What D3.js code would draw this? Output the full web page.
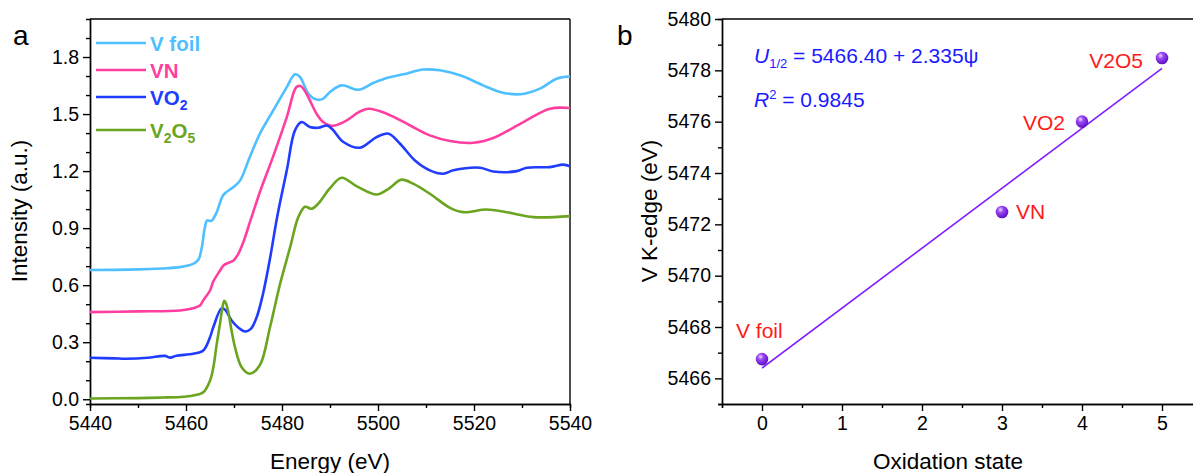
<!DOCTYPE html>
<html>
<head>
<meta charset="utf-8">
<script src="https://cdn.jsdelivr.net/npm/d3@7"></script>
<style>
  html, body { margin: 0; padding: 0; background: #fff; }
  svg { display: block; font-family: "Liberation Sans", Arial, sans-serif; }
</style>
</head>
<body>
<svg id="fig" width="1193" height="473"></svg>
<script>
// ---- Panel a: V K-edge XANES spectra, [energy (eV), normalised intensity] ----
const vFoil = [
  [5440, 0.680], [5450, 0.683], [5455, 0.688], [5458.75, 0.695], [5461.5, 0.712],
  [5462.6, 0.735], [5463.3, 0.80], [5463.9, 0.90], [5464.4, 0.94], [5465.3, 0.938],
  [5466.4, 0.984], [5467.8, 1.075], [5469.9, 1.116], [5471.25, 1.15], [5473.3, 1.274],
  [5475.4, 1.397], [5478.2, 1.52], [5481, 1.642], [5482.7, 1.709], [5483.75, 1.695],
  [5485.5, 1.607], [5487.2, 1.576], [5488.5, 1.580], [5490, 1.616], [5492.4, 1.651],
  [5495.9, 1.628], [5499, 1.663], [5501.8, 1.69], [5505.3, 1.709], [5509.4, 1.734],
  [5512.9, 1.73], [5517.1, 1.704], [5521.9, 1.651], [5525.4, 1.616], [5529.6, 1.604],
  [5533.75, 1.634], [5537.2, 1.686], [5540, 1.698]
];
const vN = [
  [5440, 0.458], [5450, 0.462], [5458.75, 0.467], [5461.5, 0.479], [5462.9, 0.493],
  [5463.6, 0.52], [5465, 0.572], [5465.7, 0.62], [5467.1, 0.677], [5467.8, 0.704],
  [5469.2, 0.721], [5469.9, 0.73], [5470.9, 0.765], [5472.0, 0.83], [5473.3, 0.93],
  [5475.4, 1.09], [5478.2, 1.28], [5481, 1.484], [5483, 1.642], [5483.9, 1.647],
  [5485.1, 1.607], [5487.2, 1.502], [5488.5, 1.46], [5490, 1.44], [5491, 1.44],
  [5493.5, 1.467], [5496, 1.51], [5498, 1.528], [5501.8, 1.502], [5506.7, 1.44],
  [5510.8, 1.388], [5515, 1.358], [5519.9, 1.349], [5524, 1.374], [5530.3, 1.458],
  [5535.8, 1.528], [5540, 1.532]
];
const vO2 = [
  [5440, 0.218], [5445, 0.215], [5447.6, 0.213], [5452, 0.218], [5455.6, 0.228],
  [5456.7, 0.219], [5458, 0.229], [5461.5, 0.239], [5463.6, 0.256], [5465, 0.326],
  [5465.7, 0.38], [5467.4, 0.478], [5468.2, 0.47], [5469.5, 0.414], [5471, 0.375],
  [5472.3, 0.356], [5473.5, 0.37], [5474.7, 0.43], [5476, 0.55], [5477.5, 0.74],
  [5479, 0.96], [5481, 1.204], [5482.7, 1.414], [5484.1, 1.458], [5485.8, 1.432],
  [5487.6, 1.428], [5489.4, 1.44], [5490.5, 1.42], [5492.8, 1.353], [5496.25, 1.323],
  [5499.7, 1.379], [5502.2, 1.397], [5504.6, 1.344], [5507.7, 1.256], [5510.8, 1.204],
  [5513.6, 1.186], [5515.7, 1.204], [5521.25, 1.218], [5524, 1.198], [5528.9, 1.2],
  [5531, 1.218], [5535.8, 1.221], [5538.6, 1.234], [5540, 1.226]
];
const v2O5 = [
  [5440, 0.004], [5450, 0.006], [5455, 0.009], [5458.75, 0.012], [5461.5, 0.02],
  [5463.6, 0.037], [5465, 0.098], [5465.7, 0.168], [5466.4, 0.29], [5467.1, 0.40],
  [5467.5, 0.47], [5467.97, 0.518], [5468.4, 0.50], [5468.8, 0.46], [5469.5, 0.36],
  [5470.2, 0.274], [5471.6, 0.168], [5473.3, 0.134], [5475.4, 0.18], [5477.5, 0.379],
  [5479.6, 0.607], [5481.7, 0.80], [5483.4, 0.958], [5484.8, 1.012], [5486.2, 1.002],
  [5487.6, 1.03], [5490, 1.11], [5492.4, 1.165], [5495.6, 1.12], [5499.7, 1.077],
  [5502.2, 1.107], [5504.9, 1.155], [5507.3, 1.134], [5510.8, 1.081], [5515, 1.007],
  [5517.8, 0.984], [5522.6, 0.998], [5526.8, 0.984], [5532.4, 0.958], [5540, 0.963]
];
const spectraNames = ["V foil", "VN", "VO2", "V2O5"];
const spectraColors = ["#4fc0ff", "#ff3fa0", "#1f3cff", "#6ba51f"];
const energyTicks = [5440, 5460, 5480, 5500, 5520, 5540];
const intensityTicks = [0.0, 0.3, 0.6, 0.9, 1.2, 1.5, 1.8];

// ---- Panel b: edge position vs oxidation state ----
const sampleNames = ["V foil", "VN", "VO2", "V2O5"];
const oxidationStates = [0, 3, 4, 5];
const edgeEnergies = [5466.75, 5472.48, 5476.0, 5478.48];
const fitIntercept = 5466.40;
const fitSlope = 2.335;
const fitR2 = 0.9845;
const oxTicks = [0, 1, 2, 3, 4, 5];
const edgeTicks = [5466, 5468, 5470, 5472, 5474, 5476, 5478, 5480];

const svg = d3.select("#fig");
const TICK_FONT = 19.5, TITLE_FONT = 22.5;

// gradient for the sphere markers
const defs = svg.append("defs");
const grad = defs.append("radialGradient").attr("id", "sphere")
  .attr("cx", "0.38").attr("cy", "0.32").attr("r", "0.7");
grad.append("stop").attr("offset", "0").attr("stop-color", "#e6d4ff");
grad.append("stop").attr("offset", "0.35").attr("stop-color", "#9a45f5");
grad.append("stop").attr("offset", "1").attr("stop-color", "#5a0fc0");

function styleAxis(g) {
  g.select(".domain").attr("stroke", "#000").attr("stroke-width", 1.4);
  g.selectAll(".tick line").attr("stroke", "#000").attr("stroke-width", 1.4);
  g.selectAll(".tick text").attr("font-size", TICK_FONT).attr("fill", "#000")
    .attr("font-family", "'Liberation Sans', Arial, sans-serif");
}

// ================= Panel a =================
const xa = d3.scaleLinear().domain([5440, 5540]).range([90, 570]);
const ya = d3.scaleLinear().domain([-0.025, 2.0]).range([404, 19]);

// frame (top and right)
svg.append("line").attr("x1", 90).attr("x2", 570).attr("y1", ya(2.0)).attr("y2", ya(2.0))
  .attr("stroke", "#000").attr("stroke-width", 1.4);
svg.append("line").attr("x1", 570).attr("x2", 570).attr("y1", ya(2.0)).attr("y2", ya(-0.025))
  .attr("stroke", "#000").attr("stroke-width", 1.4);

// minor ticks
svg.append("g").attr("transform", "translate(0,404)")
  .call(d3.axisBottom(xa).tickValues(d3.range(5450, 5540, 20)).tickSize(4).tickFormat(""))
  .call(styleAxis);
svg.append("g").attr("transform", "translate(90,0)")
  .call(d3.axisLeft(ya).tickValues(d3.range(0, 20).map(i => i / 10).filter((v, i) => i % 3 !== 0)).tickSize(4).tickFormat(""))
  .call(styleAxis);
// major ticks
svg.append("g").attr("transform", "translate(0,404)")
  .call(d3.axisBottom(xa).tickValues(energyTicks).tickSize(7).tickSizeOuter(0).tickPadding(5).tickFormat(d3.format("d")))
  .call(styleAxis);
svg.append("g").attr("transform", "translate(90,0)")
  .call(d3.axisLeft(ya).tickValues(intensityTicks).tickSize(7).tickSizeOuter(0).tickPadding(4).tickFormat(d3.format(".1f")))
  .call(styleAxis);

// spectra
const lineA = d3.line().x(d => xa(d[0])).y(d => ya(d[1])).curve(d3.curveCatmullRom.alpha(0.5));
const spectra = [vFoil, vN, vO2, v2O5];
svg.append("g").selectAll("path").data(spectra).join("path")
  .attr("d", lineA).attr("fill", "none")
  .attr("stroke", (d, i) => spectraColors[i]).attr("stroke-width", 2.6)
  .attr("stroke-linejoin", "round");

// legend
const legendY = [43, 70, 97, 130];
const leg = svg.append("g");
spectraNames.forEach((name, i) => {
  leg.append("line").attr("x1", 96).attr("x2", 146).attr("y1", legendY[i]).attr("y2", legendY[i])
    .attr("stroke", spectraColors[i]).attr("stroke-width", 2.6);
  const t = leg.append("text").attr("x", 150).attr("y", legendY[i] + 8)
    .attr("font-size", 20.5).attr("font-weight", "bold").attr("fill", spectraColors[i]);
  // chemical formula: digits become subscripts
  const parts = name.match(/[A-Za-z ]+|\d+/g);
  let shifted = false;
  parts.forEach(p => {
    if (/^\d+$/.test(p)) {
      t.append("tspan").attr("dy", shifted ? 0 : 5).attr("font-size", 14).text(p);
      shifted = true;
    } else {
      t.append("tspan").attr("dy", shifted ? -5 : 0).text(p);
      shifted = false;
    }
  });
});

// titles
svg.append("text").attr("x", 330).attr("y", 469).attr("text-anchor", "middle")
  .attr("font-size", TITLE_FONT).text("Energy (eV)");
svg.append("text").attr("transform", "translate(27,211) rotate(-90)").attr("text-anchor", "middle")
  .attr("font-size", TITLE_FONT).text("Intensity (a.u.)");
svg.append("text").attr("x", 13).attr("y", 45).attr("font-size", 28).text("a");

// ================= Panel b =================
const xb = d3.scaleLinear().domain([-0.5, 5.4]).range([722, 1194]);
const yb = d3.scaleLinear().domain([5465, 5480]).range([404, 19]);

svg.append("line").attr("x1", 722).attr("x2", 1193).attr("y1", yb(5480)).attr("y2", yb(5480))
  .attr("stroke", "#000").attr("stroke-width", 1.4);

svg.append("g").attr("transform", "translate(0,404)")
  .call(d3.axisBottom(xb).tickValues([-0.5, 0.5, 1.5, 2.5, 3.5, 4.5]).tickSize(4).tickFormat(""))
  .call(styleAxis);
svg.append("g").attr("transform", "translate(722,0)")
  .call(d3.axisLeft(yb).tickValues([5465, 5467, 5469, 5471, 5473, 5475, 5477, 5479]).tickSize(4).tickFormat(""))
  .call(styleAxis);
svg.append("g").attr("transform", "translate(0,404)")
  .call(d3.axisBottom(xb).tickValues(oxTicks).tickSize(7).tickSizeOuter(0).tickPadding(5).tickFormat(d3.format("d")))
  .call(styleAxis);
svg.append("g").attr("transform", "translate(722,0)")
  .call(d3.axisLeft(yb).tickValues(edgeTicks).tickSize(7).tickSizeOuter(0).tickPadding(4).tickFormat(d3.format("d")))
  .call(styleAxis);

// linear fit
svg.append("line")
  .attr("x1", xb(0)).attr("y1", yb(fitIntercept))
  .attr("x2", xb(5)).attr("y2", yb(fitIntercept + fitSlope * 5))
  .attr("stroke", "#7f1fff").attr("stroke-width", 1.6);

// samples
const pts = oxidationStates.map((x, i) => ({ x, y: edgeEnergies[i], name: sampleNames[i] }));
svg.append("g").selectAll("circle").data(pts).join("circle")
  .attr("cx", d => xb(d.x)).attr("cy", d => yb(d.y)).attr("r", 6.3)
  .attr("fill", "url(#sphere)");

// sample labels
const labelPos = [
  { dx: -26, dy: -21, anchor: "start" },   // V foil
  { dx: 14, dy: 7, anchor: "start" },      // VN
  { dx: -17, dy: 8, anchor: "end" },       // VO2
  { dx: -19, dy: 10, anchor: "end" }       // V2O5
];
svg.append("g").selectAll("text").data(pts).join("text")
  .attr("x", (d, i) => xb(d.x) + labelPos[i].dx)
  .attr("y", (d, i) => yb(d.y) + labelPos[i].dy)
  .attr("text-anchor", (d, i) => labelPos[i].anchor)
  .attr("font-size", 21).attr("fill", "#ff1a1a").text(d => d.name);

// fit equation
const eq = svg.append("text").attr("x", 754).attr("y", 63).attr("font-size", 21).attr("fill", "#1a1aff");
eq.append("tspan").attr("font-style", "italic").text("U");
eq.append("tspan").attr("font-size", 13).attr("dy", 5).text("1/2");
eq.append("tspan").attr("dy", -5).text(` = ${fitIntercept.toFixed(2)} + ${fitSlope.toFixed(3)}ψ`);
const r2 = svg.append("text").attr("x", 754).attr("y", 107).attr("font-size", 21).attr("fill", "#1a1aff");
r2.append("tspan").attr("font-style", "italic").text("R");
r2.append("tspan").attr("font-size", 13).attr("dy", -8).text("2");
r2.append("tspan").attr("dy", 8).text(` = ${fitR2.toFixed(4)}`);

// titles
svg.append("text").attr("x", 948).attr("y", 469).attr("text-anchor", "middle")
  .attr("font-size", TITLE_FONT).text("Oxidation state");
svg.append("text").attr("transform", "translate(657,211) rotate(-90)").attr("text-anchor", "middle")
  .attr("font-size", TITLE_FONT).text("V K-edge (eV)");
svg.append("text").attr("x", 617).attr("y", 45).attr("font-size", 28).text("b");
</script>
</body>
</html>
